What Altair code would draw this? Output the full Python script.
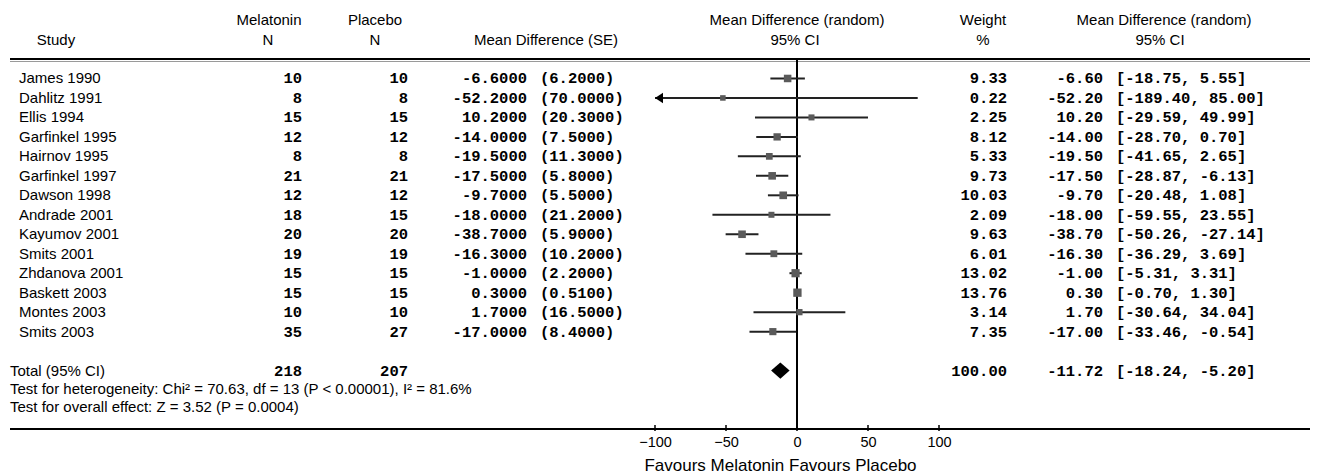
import altair as alt
import pandas as pd

# ---------------- data ----------------
STUDIES = ["James 1990", "Dahlitz 1991", "Ellis 1994", "Garfinkel 1995", "Hairnov 1995",
           "Garfinkel 1997", "Dawson 1998", "Andrade 2001", "Kayumov 2001", "Smits 2001",
           "Zhdanova 2001", "Baskett 2003", "Montes 2003", "Smits 2003"]
MEL_N = [10, 8, 15, 12, 8, 21, 12, 18, 20, 19, 15, 15, 10, 35]
PLA_N = [10, 8, 15, 12, 8, 21, 12, 15, 20, 19, 15, 15, 10, 27]
MD = [-6.6, -52.2, 10.2, -14.0, -19.5, -17.5, -9.7, -18.0, -38.7, -16.3, -1.0, 0.3, 1.7, -17.0]
SE = [6.2, 70.0, 20.3, 7.5, 11.3, 5.8, 5.5, 21.2, 5.9, 10.2, 2.2, 0.51, 16.5, 8.4]
WEIGHT = [9.33, 0.22, 2.25, 8.12, 5.33, 9.73, 10.03, 2.09, 9.63, 6.01, 13.02, 13.76, 3.14, 7.35]
CI_LO = [-18.75, -189.40, -29.59, -28.70, -41.65, -28.87, -20.48, -59.55, -50.26, -36.29,
         -5.31, -0.70, -30.64, -33.46]
CI_HI = [5.55, 85.00, 49.99, 0.70, 2.65, -6.13, 1.08, 23.55, -27.14, 3.69, 3.31, 1.30,
         34.04, -0.54]

TOTAL_MEL = 218
TOTAL_PLA = 207
TOTAL_W = 100.00
TOTAL_MD = -11.72
TOTAL_LO = -18.24
TOTAL_HI = -5.20
HETERO = "Test for heterogeneity: Chi\u00b2 = 70.63, df = 13 (P < 0.00001), I\u00b2 = 81.6%"
OVERALL = "Test for overall effect: Z = 3.52 (P = 0.0004)"
TICKS = [-100, -50, 0, 50, 100]
X_TITLE = "Favours Melatonin Favours Placebo"

# ---------------- styling ----------------
SANS = "Liberation Sans"
MONO = "Liberation Mono"
FS_SANS = 15
FS_MONO = 15.5
MONO_W = "bold"
XMIN, XMAX = -100, 100
YS = alt.Scale(domain=[-1, 18], range=[51, 421])
XS = alt.Scale(domain=[XMIN, XMAX], range=[647, 931])
AX = alt.Axis(values=TICKS, domain=False, ticks=False, grid=False, labelFlush=False,
              labelFont=SANS, labelFontSize=14.5, labelPadding=6, labelColor="black",
              format="d", title=X_TITLE, titleFont=SANS, titleFontSize=17,
              titleFontWeight="normal", titleColor="black", titleX=772, titleY=36,
              titleBaseline="middle", titleAlign="center")

n = len(STUDIES)
df = pd.DataFrame({
    "row": list(range(n)),
    "study": STUDIES,
    "mel": [str(v) for v in MEL_N],
    "pla": [str(v) for v in PLA_N],
    "md": MD,
    "md_txt": [f"{v:.4f}" for v in MD],
    "se_txt": [f"({v:.4f})" for v in SE],
    "weight": WEIGHT,
    "w_txt": [f"{v:.2f}" for v in WEIGHT],
    "ci_md": [f"{v:.2f}" for v in MD],
    "ci_rng": [f"[{a:.2f}, {b:.2f}]" for a, b in zip(CI_LO, CI_HI)],
    "lo": CI_LO,
    "lo_c": [max(v, XMIN) for v in CI_LO],
    "hi_c": [min(v, XMAX) for v in CI_HI],
})

TOTAL_ROW = n + 1
tot = pd.DataFrame({
    "row": [TOTAL_ROW],
    "label": ["Total (95% CI)"],
    "mel": [str(TOTAL_MEL)],
    "pla": [str(TOTAL_PLA)],
    "w_txt": [f"{TOTAL_W:.2f}"],
    "ci_md": [f"{TOTAL_MD:.2f}"],
    "ci_rng": [f"[{TOTAL_LO:.2f}, {TOTAL_HI:.2f}]"],
})
notes = pd.DataFrame({"row": [TOTAL_ROW + 0.95, TOTAL_ROW + 1.87], "label": [HETERO, OVERALL]})

HALF_H = 0.42
diamond = pd.DataFrame({
    "x": [TOTAL_LO, TOTAL_MD, TOTAL_HI],
    "y": [TOTAL_ROW, TOTAL_ROW - HALF_H, TOTAL_ROW],
    "y2": [TOTAL_ROW, TOTAL_ROW + HALF_H, TOTAL_ROW],
})

Y = alt.Y("row:Q", scale=YS, axis=None)


def text_col(data, field, xpx, align, font, size, weight="normal"):
    return alt.Chart(data).mark_text(align=align, baseline="middle", font=font,
                                     fontSize=size, fontWeight=weight, color="black").encode(
        x=alt.value(xpx), y=Y, text=f"{field}:N")


layers = []

# horizontal rules (header and footer)
one = pd.DataFrame({"a": [0]})
for ypx in (51, 421):
    layers.append(alt.Chart(one).mark_rule(color="black", strokeWidth=2.2).encode(
        x=alt.value(2), x2=alt.value(1302), y=alt.value(ypx)))
layers.append(alt.Chart(one).mark_rule(color="#9a9a9a", strokeWidth=1).encode(
    x=alt.value(2), x2=alt.value(1302), y=alt.value(53.5)))

# zero line
layers.append(alt.Chart(pd.DataFrame({"x": [0]})).mark_rule(color="black", strokeWidth=2).encode(
    x=alt.X("x:Q", scale=XS, axis=AX), y=alt.value(51), y2=alt.value(421)))

# axis ticks
layers.append(alt.Chart(pd.DataFrame({"t": TICKS})).mark_rule(color="black", strokeWidth=1.5).encode(
    x=alt.X("t:Q", scale=XS, axis=AX), y=alt.value(417), y2=alt.value(423)))

# CI lines
layers.append(alt.Chart(df).mark_rule(color="#222222", strokeWidth=2).encode(
    x=alt.X("lo_c:Q", scale=XS, axis=AX), x2="hi_c:Q", y=Y))

# arrows for truncated CIs
layers.append(alt.Chart(df).transform_filter(alt.datum.lo < XMIN).mark_point(
    shape="M0,0L2,-1.3L2,1.3Z", filled=True, color="black", opacity=1, size=64).encode(
    x=alt.X("lo_c:Q", scale=XS, axis=AX), y=Y))

# squares
layers.append(alt.Chart(df).mark_square(color="#5a5a5a", opacity=1, filled=True).encode(
    x=alt.X("md:Q", scale=XS, axis=AX), y=Y,
    size=alt.Size("weight:Q", scale=alt.Scale(domain=[0, 14], range=[30, 70]), legend=None)))

# diamond
layers.append(alt.Chart(diamond).mark_area(color="black", orient="vertical", opacity=1).encode(
    x=alt.X("x:Q", scale=XS, axis=AX), y=alt.Y("y:Q", scale=YS, axis=None), y2="y2:Q"))

# study table columns
layers += [
    text_col(df, "study", 11, "left", SANS, FS_SANS),
    text_col(df, "mel", 294, "right", MONO, FS_MONO, MONO_W),
    text_col(df, "pla", 400, "right", MONO, FS_MONO, MONO_W),
    text_col(df, "md_txt", 519, "right", MONO, FS_MONO, MONO_W),
    text_col(df, "se_txt", 532, "left", MONO, FS_MONO, MONO_W),
    text_col(df, "w_txt", 999, "right", MONO, FS_MONO, MONO_W),
    text_col(df, "ci_md", 1095, "right", MONO, FS_MONO, MONO_W),
    text_col(df, "ci_rng", 1108, "left", MONO, FS_MONO, MONO_W),
]

# total row and notes
layers += [
    text_col(tot, "label", 2, "left", SANS, FS_SANS),
    text_col(tot, "mel", 294, "right", MONO, FS_MONO, MONO_W),
    text_col(tot, "pla", 400, "right", MONO, FS_MONO, MONO_W),
    text_col(tot, "w_txt", 999, "right", MONO, FS_MONO, MONO_W),
    text_col(tot, "ci_md", 1095, "right", MONO, FS_MONO, MONO_W),
    text_col(tot, "ci_rng", 1108, "left", MONO, FS_MONO, MONO_W),
    text_col(notes, "label", 2, "left", SANS, FS_SANS),
]

# headers: (text, x px, row)
HEADERS = [
    ("Study", 48, -2), ("Melatonin", 261, -3), ("N", 260, -2),
    ("Placebo", 367, -3), ("N", 367, -2), ("Mean Difference (SE)", 538, -2),
    ("Mean Difference (random)", 789, -3), ("95% CI", 787, -2),
    ("Weight", 975, -3), ("%", 975, -2),
    ("Mean Difference (random)", 1156, -3), ("95% CI", 1152, -2),
]
for txt, xpx, r in HEADERS:
    layers.append(alt.Chart(pd.DataFrame({"row": [r], "t": [txt]})).mark_text(
        align="center", baseline="middle", font=SANS, fontSize=FS_SANS, color="black").encode(
        x=alt.value(xpx), y=Y, text="t:N"))

chart = alt.layer(*layers).properties(
    width=1302, height=421,
    autosize=alt.AutoSizeParams(type="none"),
    padding={"left": 0, "right": 0, "top": 0, "bottom": 46},
).configure(background="white").configure_view(stroke=None)

chart.save("out.html", embed_options={"renderer": "svg", "actions": False})
